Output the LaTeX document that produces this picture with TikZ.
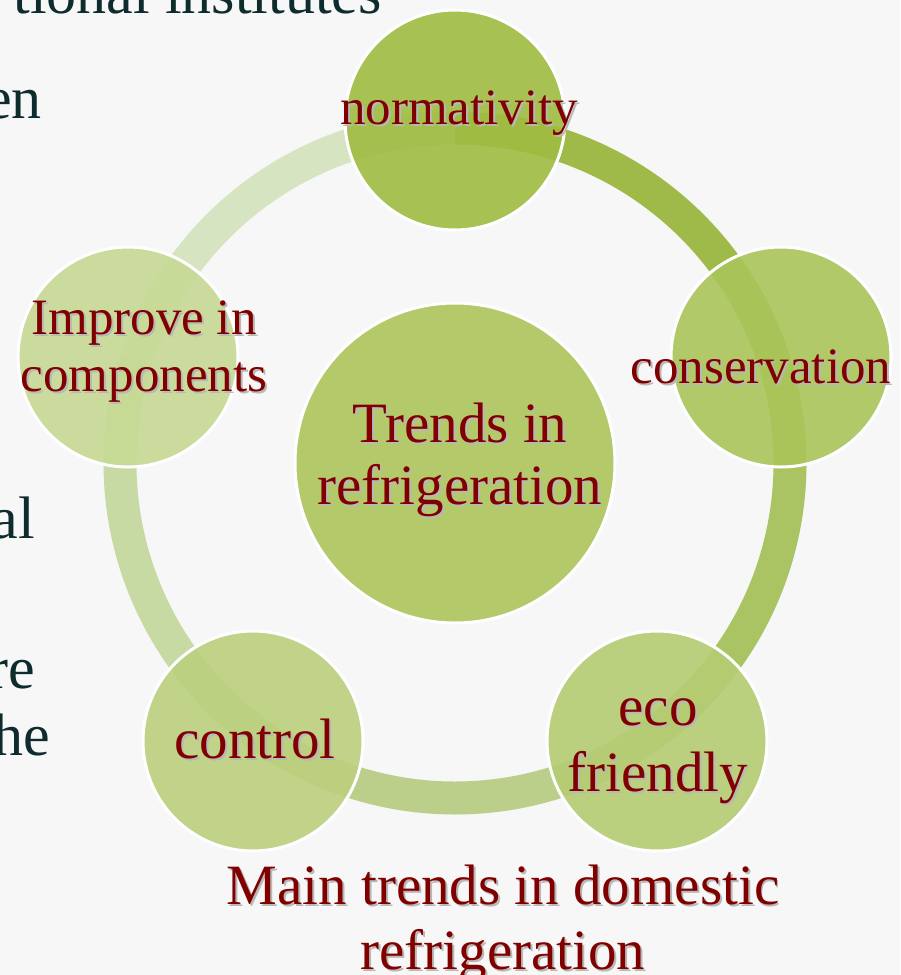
\documentclass[tikz,border=0pt]{standalone}
\usepackage{fontspec}
\setmainfont{Liberation Serif}
\usetikzlibrary{calc}
\definecolor{trendred}{HTML}{800000}
\definecolor{slate}{HTML}{0E2B2E}
\definecolor{segA}{HTML}{9FBA48}
\definecolor{segB}{HTML}{ABC463}
\definecolor{segC}{HTML}{BCCF8A}
\definecolor{segD}{HTML}{C8DAA3}
\definecolor{segE}{HTML}{D7E4C1}
\definecolor{normc}{HTML}{9FBC42}
\definecolor{consc}{HTML}{AAC55A}
\definecolor{ecoc}{HTML}{B5CC73}
\definecolor{ctrlc}{HTML}{BBD07E}
\definecolor{imprc}{HTML}{C6D994}
\definecolor{hubfill}{HTML}{B4C96A}
\newcommand{\shd}[1]{\rlap{\kern2pt\raisebox{-2pt}{\textcolor{black!28}{#1}}}#1}

\begin{document}
\begin{tikzpicture}[x=1pt,y=-1pt,
    seg/.style={line width=33pt},
    trend/.style={circle,draw=white,line width=3pt,minimum size=220pt,inner sep=0pt,fill opacity=.9},
    lbl/.style={text=trendred,align=center,inner sep=0pt,font=\fontsize{51}{57}\selectfont},
    big/.style={font=\fontsize{57}{64}\selectfont},
    side/.style={text=slate,anchor=base east,inner sep=0pt,font=\fontsize{60}{66}\selectfont}]
  \useasboundingbox (0,0) rectangle (900,975);
  \clip (0,0) rectangle (900,975);
  \fill[black!3] (0,0) rectangle (900,975);

  % slide text behind the diagram
  \node[side] (s1) at (382,13) {tional institutes};
  \node[side] (s2) at (42,118) {en};
  \node[side] (s3) at (35,538) {al};
  \node[side] (s4) at (35,688) {re};
  \node[side] (s5) at (50,755) {he};

  % ring
  \coordinate (hub) at (455,463);
  \draw[seg,segA] ([shift={(-90:335)}]hub) arc[start angle=-90,end angle=-18,radius=335];
  \draw[seg,segB] ([shift={(-18:335)}]hub) arc[start angle=-18,end angle=54,radius=335];
  \draw[seg,segC] ([shift={(54:335)}]hub) arc[start angle=54,end angle=126,radius=335];
  \draw[seg,segD] ([shift={(126:335)}]hub) arc[start angle=126,end angle=198,radius=335];
  \draw[seg,segE] ([shift={(198:335)}]hub) arc[start angle=198,end angle=270,radius=335];

  % circles
  \node[trend,fill=hubfill,minimum size=320pt,fill opacity=1] (trends) at (hub) {};
  \node[trend,fill=normc] (norm) at (455,120) {};
  \node[trend,fill=consc] (cons) at (781,357) {};
  \node[trend,fill=ecoc] (eco) at (657,741) {};
  \node[trend,fill=ctrlc] (ctrl) at (253,741) {};
  \node[trend,fill=imprc] (impr) at (128,357) {};

  % labels
  \node[lbl,anchor=base] (norm-t) at (459,124) {\shd{normativity}};
  \node[lbl,anchor=base] (cons-t) at (761,383) {\shd{conservation}};
  \node[lbl,big,anchor=base] (ctrl-t) at (255,758) {\shd{control}};
  \node[lbl,font=\fontsize{57}{66}\selectfont] (eco-t) at (658,752) {\shd{eco}\\\shd{friendly}};
  \node[lbl] (impr-t) at (144,353) {\shd{Improve in}\\\shd{components}};
  \node[lbl,font=\fontsize{57}{62}\selectfont] (trends-t) at (460,461) {\shd{Trends in}\\\shd{refrigeration}};
  \node[lbl,big,font=\fontsize{57}{65}\selectfont] (title) at (503,924) {\shd{Main trends in domestic}\\\shd{refrigeration}};
\end{tikzpicture}
\end{document}
